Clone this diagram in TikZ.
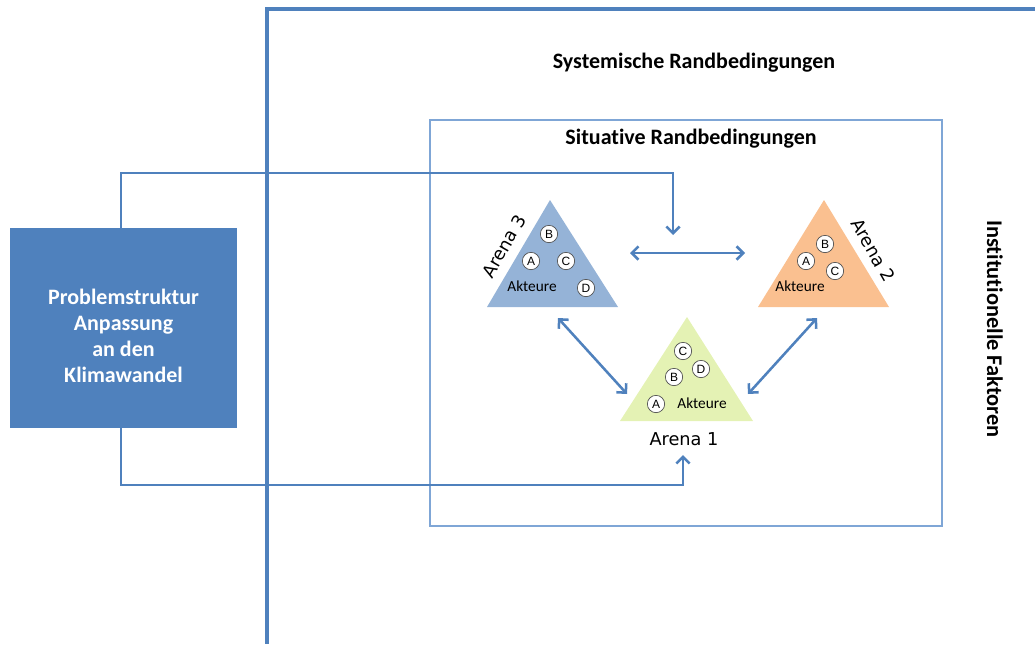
\documentclass[tikz,border=0pt]{standalone}
\usepackage{fontspec}
\setmainfont[Ligatures={NoCommon}]{Carlito}
\newfontfamily\verd{DejaVu Sans}
\newfontfamily\arl{Liberation Sans}
\usetikzlibrary{arrows.meta}
\definecolor{mblue}{HTML}{4F81BD}
\definecolor{lblue}{HTML}{7FA6D6}
\definecolor{tblue}{HTML}{95B3D7}
\definecolor{torange}{HTML}{FAC090}
\definecolor{tgreen}{HTML}{E4F2B4}
\tikzset{
  frame/.style={draw=mblue, line width=2.3pt},
  conn/.style={draw=mblue, line width=1.9pt},
  tip/.style={-{Straight Barb[length=5pt,width=10pt,line width=1.9pt]}},
  dtip/.style={{Straight Barb[length=5pt,width=10pt,line width=1.9pt]}-{Straight Barb[length=5pt,width=10pt,line width=1.9pt]}},
  heading/.style={font=\fontsize{16.5}{19}\selectfont\bfseries},
  actor/.style={circle, draw=black!70, fill=white, line width=0.5pt, minimum size=13pt, inner sep=0pt, font=\arl\fontsize{9}{10}\selectfont},
  akt/.style={font=\fontsize{11.5}{13}\selectfont, inner sep=1pt},
  arena/.style={font=\verd\fontsize{13.3}{15}\selectfont, inner sep=0pt},
}
\begin{document}
\begin{tikzpicture}[x=0.75pt,y=-0.75pt]
\useasboundingbox (0,0) rectangle (1035,644);
% outer frame
\coordinate (ftop) at (1035,9);
\coordinate (fcorner) at (267,9);
\coordinate (fbot) at (267,644);
\draw[frame] (ftop) -- (fcorner) -- (fbot);
% inner rectangle
\draw[draw=lblue, line width=0.9pt] (430,120) rectangle (942,526);
% headings
\node[heading] (sys) at (694,63) {Systemische Randbedingungen};
\node[heading] (sit) at (691,139) {Situative Randbedingungen};
\node[heading, font=\fontsize{16.8}{19}\selectfont\bfseries, rotate=-90] (inst) at (995,329) {Institutionelle Faktoren};
% problem box
\node[fill=mblue, minimum width=170.25pt, minimum height=150pt, inner sep=0pt]
      (prob) at (123.5,328) {};
\node[text=white, align=center, font=\fontsize{16.5}{19.5}\selectfont\bfseries]
      (probtext) at (123.5,336) {Problemstruktur\\Anpassung\\an den\\Klimawandel};
% triangles
\filldraw[fill=tblue, draw=none] (550,200) -- (618,307) -- (487,307) -- cycle;
\filldraw[fill=torange, draw=none] (824,200) -- (889,307) -- (758,307) -- cycle;
\filldraw[fill=tgreen, draw=none] (687,317) -- (753,421) -- (620,421) -- cycle;
% arena labels
\node[arena, rotate=60] (a3) at (504,246) {Arena 3};
\node[arena, rotate=-60] (a2) at (873,250) {Arena 2};
\node[arena] (a1) at (684,439) {Arena 1};
% actors arena 3
\node[actor] (b3) at (549,234) {B};
\node[actor] (aa3) at (531,261) {A};
\node[actor] (c3) at (566,261) {C};
\node[actor] (d3) at (586,288) {D};
\node[akt] (k3) at (532,286) {Akteure};
% actors arena 2
\node[actor] (b2) at (825,244) {B};
\node[actor] (aa2) at (806,261) {A};
\node[actor] (c2) at (835,271) {C};
\node[akt] (k2) at (800,286) {Akteure};
% actors arena 1
\node[actor] (c1) at (683,351) {C};
\node[actor] (d1) at (701,369) {D};
\node[actor] (b1) at (674,377) {B};
\node[actor] (aa1) at (656,404) {A};
\node[akt] (k1) at (702,403) {Akteure};
% arrow endpoints
\coordinate (t3) at (630,253);
\coordinate (t2) at (745,253);
\coordinate (l3) at (558,318);
\coordinate (l1) at (627,394);
\coordinate (r2) at (817,318);
\coordinate (r1) at (748,394);
\coordinate (topin) at (673,235);
\coordinate (botin) at (683,455);
\draw[conn, dtip] (t3) -- (t2);
\draw[conn, dtip] (l3) -- (l1);
\draw[conn, dtip] (r2) -- (r1);
% connectors from problem box
\draw[conn, tip] (prob.north -| 121,0) -- (121,173) -- (673,173) -- (topin);
\draw[conn, tip] (prob.south -| 121,0) -- (121,485) -- (683,485) -- (botin);
\end{tikzpicture}
\end{document}
